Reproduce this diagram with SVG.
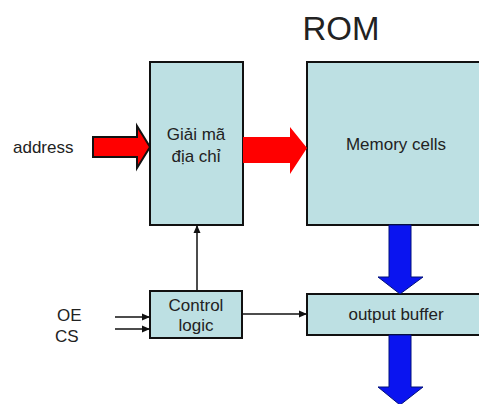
<svg xmlns="http://www.w3.org/2000/svg" width="479" height="404" viewBox="0 0 479 404">
<defs>
<style>
.box{fill:#bde0e3;stroke:#111;stroke-width:2}
.t{font-family:"Liberation Sans",Arial,sans-serif;font-size:17px;fill:#222;text-anchor:middle}
.lbl{font-family:"Liberation Sans",Arial,sans-serif;font-size:17px;fill:#222}
.wire{stroke:#111;stroke-width:1.5;fill:none}
.blue{fill:#0a14f0;stroke:#00107a;stroke-width:1}
</style>
<marker id="ah" markerWidth="8" markerHeight="8" refX="7" refY="4" orient="auto" markerUnits="userSpaceOnUse">
<path d="M0,0.5 L8,4 L0,7.5 Z" fill="#111"/>
</marker>
</defs>
<rect width="479" height="404" fill="#fff"/>
<text x="341" y="40" font-family="'Liberation Sans',Arial,sans-serif" font-size="33" fill="#222" text-anchor="middle">ROM</text>
<g id="decoder">
<rect class="box" x="150" y="62" width="93" height="163"/>
<text class="t" x="196" y="140">Giải mã</text>
<text class="t" x="196" y="162">địa chỉ</text>
</g>
<g id="memory">
<rect class="box" x="307" y="62" width="180" height="163"/>
<text class="t" x="396" y="150">Memory cells</text>
</g>
<g id="control">
<rect class="box" x="150" y="291" width="92" height="47"/>
<text class="t" x="196" y="311">Control</text>
<text class="t" x="196" y="331">logic</text>
</g>
<g id="buffer">
<rect class="box" x="307" y="294" width="180" height="41"/>
<text class="t" x="396" y="320">output buffer</text>
</g>
<g id="labels">
<text class="lbl" x="13" y="153">address</text>
<text class="lbl" x="57" y="321">OE</text>
<text class="lbl" x="55" y="342">CS</text>
</g>
<g id="connectors">
<path d="M93,137 L137,137 L137,126 L150,147 L137,168 L137,157 L93,157 Z" fill="#f00" stroke="#111" stroke-width="2"/>
<path d="M243,137 L290,137 L290,127 L307,148 L290,174 L290,163 L243,163 Z" fill="#f00"/>
<path class="blue" d="M389,225 L411,225 L411,277 L423,277 L400,294 L378,277 L389,277 Z"/>
<path class="blue" d="M389,335 L411,335 L411,387 L423,387 L400,405 L378,387 L389,387 Z"/>
<line class="wire" x1="197" y1="291" x2="197" y2="226" marker-end="url(#ah)"/>
<line class="wire" x1="242" y1="314" x2="306" y2="314" marker-end="url(#ah)"/>
<line class="wire" x1="115" y1="317" x2="149" y2="317" marker-end="url(#ah)"/>
<line class="wire" x1="115" y1="329" x2="149" y2="329" marker-end="url(#ah)"/>
</g>
</svg>
